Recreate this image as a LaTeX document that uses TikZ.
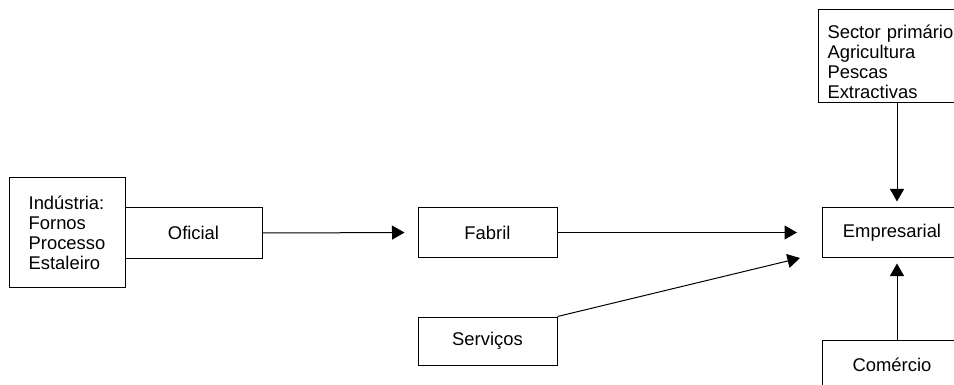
\documentclass[tikz,border=0pt]{standalone}
\usepackage{fontspec}
\setmainfont{Liberation Sans}
\usetikzlibrary{arrows.meta}

\begin{document}
\begin{tikzpicture}[x=1pt,y=-1pt,
                  font=\fontsize{18.4}{20}\selectfont,
                  box/.style={draw,line width=1pt,inner sep=0pt,
                              minimum width=139pt,minimum height=49pt},
                  arr/.style={line width=1pt,-{Triangle[length=12.5pt,width=14pt]}}]
            \path[use as bounding box] (0,0) rectangle (954,385);
            \clip (0,0) rectangle (954,385);
            \node[box,minimum width=116pt,minimum height=109pt,align=left] (industria) at (67,232.5)
                  {Indústria:\\Fornos\\Processo\\Estaleiro};
            \node[box,minimum width=137pt,minimum height=50pt] (oficial) at (193.5,233) {Oficial};
            \node[box] (fabril) at (487.5,232.5) {Fabril};
            \node[box,minimum height=48pt] (servicos) at (487.5,341) {Serviços};
            \node[box] (empresarial) at (892,232.5) {Empresarial};
            % text sits low in this box, so the first line gets a tall strut
            \node[box,minimum height=93pt,inner xsep=9pt,text width=139pt,align=left,anchor=north west] (sector) at (818,9)
                  {\rule{0pt}{26pt}Sector primário\\Agricultura\\Pescas\\Extractivas};
            \node[box] (comercio) at (892,364.5) {Comércio};
            % the arrow from Serviços stops short of Empresarial
            \coordinate (servtip) at (800,258);
            \draw[arr,shorten >=13pt] (oficial.east) -- (fabril.west);
            \draw[arr,shorten >=25pt] (fabril.east) -- (empresarial.west);
            \draw[arr] (servicos.north east) -- (servtip);
            \draw[arr,shorten >=6pt] ([xshift=79pt]sector.south west) -- ([xshift=5pt]empresarial.north);
            \draw[arr,shorten >=6pt] ([xshift=5pt]comercio.north) -- ([xshift=5pt]empresarial.south);
      \end{tikzpicture}
\end{document}
